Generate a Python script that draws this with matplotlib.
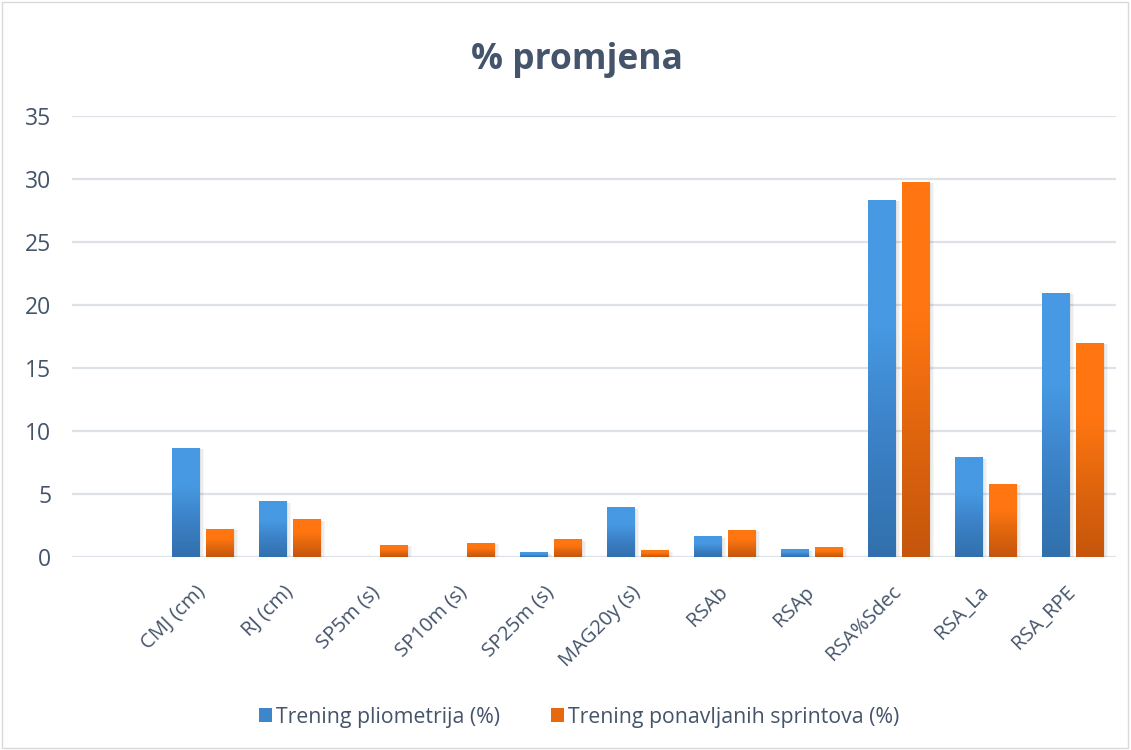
import numpy as np
import matplotlib
matplotlib.use("Agg")
import matplotlib.pyplot as plt
import matplotlib.transforms as mtransforms
from matplotlib.colors import LinearSegmentedColormap
from matplotlib.patches import Rectangle, Patch

# first category is empty in the original chart
categories = ["", "CMJ (cm)", "RJ (cm)", "SP5m (s)", "SP10m (s)", "SP25m (s)",
              "MAG20y (s)", "RSAb", "RSAp", "RSA%Sdec", "RSA_La", "RSA_RPE"]
pliometrija = [0, 8.65, 4.37, 0, 0, 0.32, 3.89, 1.59, 0.56, 28.33, 7.86, 20.95]
sprintovi = [0, 2.22, 2.94, 0.95, 1.11, 1.35, 0.48, 2.14, 0.79, 29.76, 5.79, 16.98]
series_names = ["Trening pliometrija (%)", "Trening ponavljanih sprintova (%)"]
yticks = [0, 5, 10, 15, 20, 25, 30, 35]

plt.rcParams['font.family'] = ['Open Sans', 'DejaVu Sans']
text_col = "#44546A"

blue_cmap = LinearSegmentedColormap.from_list(
    "b", [(0, "#3170AC"), (0.35, "#3C82C8"), (0.65, "#4699E2"), (1, "#4699E2")])
orange_cmap = LinearSegmentedColormap.from_list(
    "o", [(0, "#C5560C"), (0.35, "#E1660E"), (0.65, "#FF7611"), (1, "#FF7611")])

fig = plt.figure(figsize=(11.31, 7.5), dpi=100)
ax = fig.add_axes([0.0637, 0.2573, 0.9230, 0.5880])

x = np.arange(len(categories))
w = 0.32
gap = 0.035
grad = np.linspace(0, 1, 512).reshape(-1, 1)

for vals, offs, cmap in [(pliometrija, -(w / 2 + gap), blue_cmap),
                         (sprintovi, (w / 2 + gap), orange_cmap)]:
    bars = ax.bar(x + offs, vals, w, color="none", zorder=3)
    for b in bars:
        h = b.get_height()
        if h <= 0:
            continue
        x0 = b.get_x()
        # soft shadow
        for k, a in enumerate([0.05, 0.04, 0.03]):
            d = 0.012 * (k + 1)
            ax.add_patch(Rectangle((x0 + d * 0.6, -0.05), w + d, h + 0.05 - d * 3,
                                   facecolor="#000000", alpha=a, lw=0, zorder=2))
        ax.imshow(grad, extent=[x0, x0 + w, 0, h], origin="lower", cmap=cmap,
                  aspect="auto", zorder=3, interpolation="bilinear")

ax.set_xlim(-0.5, len(categories) - 0.5)
ax.set_ylim(0, 35)
ax.set_yticks(yticks)
ax.yaxis.grid(True, color="#DDE2E8", lw=1.6, zorder=0)
ax.set_axisbelow(True)
for s in ax.spines.values():
    s.set_visible(False)
ax.tick_params(axis="both", length=0, colors=text_col)
ax.tick_params(axis="y", pad=15, labelsize=16.5)
ax.set_xticks(x)
ax.set_xticklabels(categories, rotation=45, ha="right", va="top",
                   rotation_mode="anchor", color=text_col, fontsize=14.5)
ax.tick_params(axis="x", pad=18)
shift = mtransforms.ScaledTranslation(-7 / 100, 0, fig.dpi_scale_trans)
for lbl in ax.get_xticklabels():
    lbl.set_transform(lbl.get_transform() + shift)

fig.text(0.51, 0.92, "% promjena", ha="center", va="center", fontsize=25.5,
         fontweight="bold", color=text_col)

handles = [Patch(facecolor="#3D86CC", edgecolor="none"),
           Patch(facecolor="#E8680F", edgecolor="none")]
fig.legend(handles, series_names, loc="center", bbox_to_anchor=(0.512, 0.044),
           ncol=2, frameon=False, fontsize=15.3, handlelength=0.6,
           handleheight=0.6, handletextpad=0.2, columnspacing=2.4,
           labelcolor=text_col)

fig.patches.append(Rectangle((0.002, 0.003), 0.995, 0.994, transform=fig.transFigure,
                             fill=False, edgecolor="#D9D9D9", lw=1))

fig.savefig("out.png", dpi=100)
